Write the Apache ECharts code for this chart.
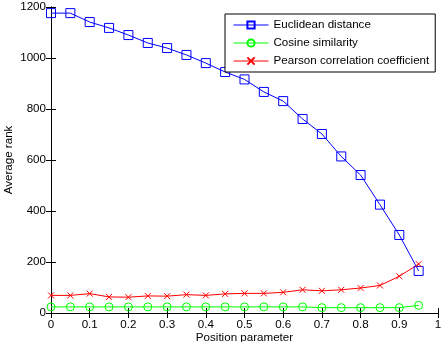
<!DOCTYPE html>
<html>
<head>
<meta charset="utf-8">
<script src="https://cdn.jsdelivr.net/npm/echarts@6/dist/echarts.min.js"></script>
<style>
  html, body { margin: 0; padding: 0; background: #fff; }
  #chart { width: 445px; height: 342px; }
</style>
</head>
<body>
<div id="chart"></div>
<script>
var positions = [0, 0.05, 0.1, 0.15, 0.2, 0.25, 0.3, 0.35, 0.4, 0.45, 0.5, 0.55, 0.6, 0.65, 0.7, 0.75, 0.8, 0.85, 0.9, 0.95];
var euclidean = [1176, 1176, 1141, 1118, 1090, 1059, 1039, 1012, 980, 945, 916, 867, 831, 761, 702, 614, 541, 425, 306, 165];
var cosine = [24, 24, 24, 24, 24, 24, 24, 24, 24, 24, 24, 24, 24, 24, 21, 21, 21, 21, 21, 30];
var pearson = [69, 69, 76, 63, 62, 67, 66, 72, 69, 75, 77, 77, 81, 91, 87, 91, 98, 108, 144, 192];

function pairs(vals) {
  return positions.map(function (x, i) { return [x, vals[i]]; });
}

var chart = echarts.init(document.getElementById('chart'));
var font = 'Liberation Sans, Arial, sans-serif';
var fs = 11.6;
var axisLine = { show: true, lineStyle: { color: '#000', width: 1 } };
var tick = { show: true, inside: true, length: 5, lineStyle: { color: '#000' } };

var option = {
  animation: false,
  backgroundColor: '#fff',
  textStyle: { fontFamily: font },
  grid: { left: 51, right: 7, top: 7, bottom: 29, outerBoundsMode: 'none', containLabel: false },
  legend: {
    orient: 'vertical',
    left: 225,
    top: 14,
    padding: [5, 6, 5, 8],
    itemWidth: 35,
    itemHeight: 9,
    itemGap: 6,
    borderColor: '#000',
    borderWidth: 1,
    backgroundColor: '#fff',
    lineStyle: { width: 1 },
    textStyle: { fontSize: fs, color: '#000', fontFamily: font },
    data: ['Euclidean distance', 'Cosine similarity', 'Pearson correlation coefficient']
  },
  xAxis: [{
    type: 'value', min: 0, max: 1, interval: 0.1,
    name: 'Position parameter', nameLocation: 'middle', nameGap: 19, nameMoveOverlap: false,
    nameTextStyle: { fontSize: fs, color: '#000', verticalAlign: 'top' },
    axisLine: axisLine, axisTick: tick,
    axisLabel: { fontSize: fs, color: '#000', margin: 6 },
    splitLine: { show: false }
  }, {
    type: 'value', min: 0, max: 1, interval: 0.1, position: 'top',
    axisLine: axisLine, axisTick: tick, axisLabel: { show: false },
    splitLine: { show: false }
  }],
  yAxis: [{
    type: 'value', min: 0, max: 1200, interval: 200,
    name: 'Average rank', nameLocation: 'middle', nameGap: 36, nameRotate: 90, nameMoveOverlap: false,
    nameTextStyle: { fontSize: fs, color: '#000' },
    axisLine: axisLine, axisTick: tick,
    axisLabel: { fontSize: fs, color: '#000', margin: 5, formatter: function (v) { return String(v); } },
    splitLine: { show: false }
  }, {
    type: 'value', min: 0, max: 1200, interval: 200, position: 'right',
    axisLine: axisLine, axisTick: tick, axisLabel: { show: false },
    splitLine: { show: false }
  }],
  series: [{
    name: 'Euclidean distance', type: 'line', data: pairs(euclidean),
    symbol: 'rect', symbolSize: 9,
    lineStyle: { color: '#0000ff', width: 1 },
    itemStyle: { color: 'rgba(0,0,0,0)', borderColor: '#0000ff', borderWidth: 1 }
  }, {
    name: 'Cosine similarity', type: 'line', data: pairs(cosine),
    symbol: 'circle', symbolSize: 8,
    lineStyle: { color: '#00ff00', width: 1 },
    itemStyle: { color: 'rgba(0,0,0,0)', borderColor: '#00ff00', borderWidth: 1 }
  }, {
    name: 'Pearson correlation coefficient', type: 'line', data: pairs(pearson),
    symbol: 'path://M0,0L10,10M10,0L0,10', symbolSize: 6,
    lineStyle: { color: '#ff0000', width: 1 },
    itemStyle: { color: 'rgba(0,0,0,0)', borderColor: '#ff0000', borderWidth: 1 }
  }]
};

chart.setOption(option);
</script>
</body>
</html>
